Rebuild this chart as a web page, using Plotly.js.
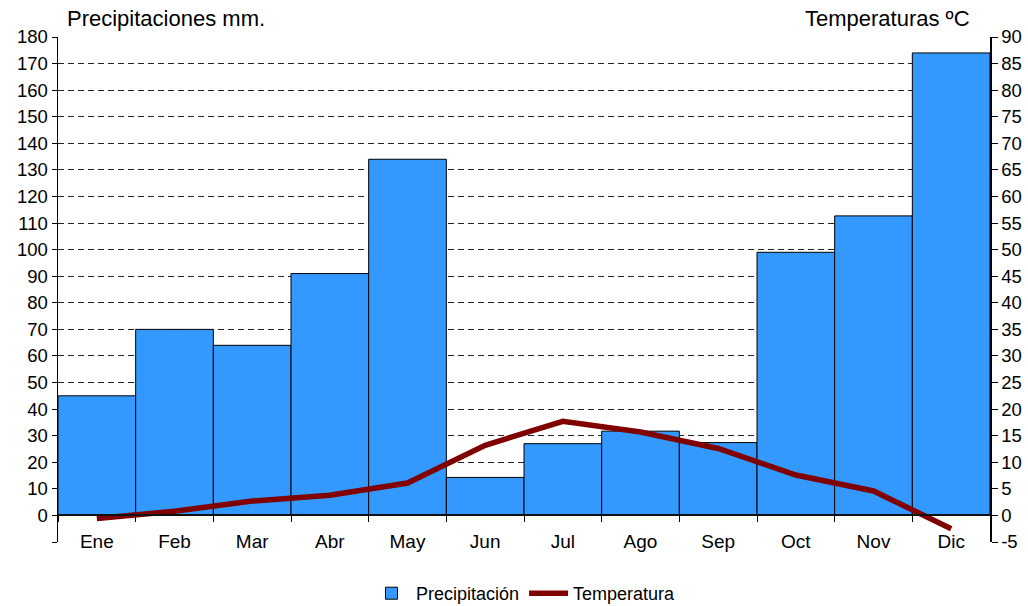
<!DOCTYPE html>
<html>
<head>
<meta charset="utf-8">
<script src="https://cdn.plot.ly/plotly-3.0.1.min.js"></script>
<style>html,body{margin:0;padding:0;background:#fff;}#chart{width:1028px;height:606px;}</style>
</head>
<body>
<div id="chart"></div>
<script>
const months = ["Ene","Feb","Mar","Abr","May","Jun","Jul","Ago","Sep","Oct","Nov","Dic"];
const precipitation = [45, 70, 64, 91, 134, 14.3, 27, 31.7, 27.4, 99, 112.7, 174];
const temperature = [-0.6, 0.8, 2.7, 3.8, 6.1, 13.2, 17.7, 15.7, 12.6, 7.6, 4.6, -2.5];
const leftTicks = [-10,0,10,20,30,40,50,60,70,80,90,100,110,120,130,140,150,160,170,180];
const leftTickText = ["","0","10","20","30","40","50","60","70","80","90","100","110","120","130","140","150","160","170","180"];
const rightTicks = [-5,0,5,10,15,20,25,30,35,40,45,50,55,60,65,70,75,80,85,90];
const rightTickText = ["-5","0","5","10","15","20","25","30","35","40","45","50","55","60","65","70","75","80","85","90"];
const leftRange = [-10, 180];
const rightRange = [-5, 90];

const FONT = '"Liberation Sans", Arial, sans-serif';

const traces = [
  {
    type: 'bar', name: 'Precipitación', x: months, y: precipitation,
    xaxis: 'x', yaxis: 'y',
    marker: {color: '#3399FF', line: {color: '#000000', width: 1}},
    hoverinfo: 'skip'
  },
  {
    type: 'scatter', mode: 'lines', name: 'Temperatura', x: months, y: temperature,
    xaxis: 'x', yaxis: 'y2',
    line: {color: '#800000', width: 5.5},
    hoverinfo: 'skip'
  }
];

const zeroFrac = (0 - leftRange[0]) / (leftRange[1] - leftRange[0]);

const layout = {
  width: 1028, height: 606,
  margin: {l: 58, r: 38, t: 37, b: 64, autoexpand: false},
  paper_bgcolor: '#ffffff', plot_bgcolor: '#ffffff',
  font: {family: FONT, size: 18, color: '#000'},
  bargap: 0,
  showlegend: true,
  legend: {orientation: 'h', x: 0.5, xanchor: 'center', y: -0.102, yanchor: 'middle',
           font: {size: 18, family: FONT}, tracegroupgap: 0, itemwidth: 39},
  xaxis: {
    type: 'category', anchor: 'free', position: zeroFrac,
    showline: true, linecolor: '#111', linewidth: 2,
    ticks: 'outside', tickson: 'boundaries', ticklen: 6, tickcolor: '#000', tickwidth: 1,
    ticklabelstandoff: 9,
    tickfont: {size: 19, family: FONT},
    showgrid: false, zeroline: false, fixedrange: true
  },
  xaxis2: {
    overlaying: 'x', anchor: 'y', side: 'bottom',
    showline: true, mirror: true, linecolor: '#999', linewidth: 1.5,
    showticklabels: false, ticks: '', showgrid: false, zeroline: false
  },
  yaxis: {
    range: leftRange, tickmode: 'array', tickvals: leftTicks, ticktext: leftTickText,
    showline: true, linecolor: '#000', linewidth: 1.5,
    ticks: 'outside', ticklen: 5, tickcolor: '#000',
    showgrid: true, gridcolor: '#222', gridwidth: 1, griddash: '6px,4px',
    zeroline: false, tickfont: {size: 18.5, family: FONT}
  },
  yaxis2: {
    range: rightRange, overlaying: 'y', side: 'right', tickmode: 'array',
    tickvals: rightTicks, ticktext: rightTickText,
    showline: true, linecolor: '#000', linewidth: 1.5,
    ticks: 'outside', ticklen: 6, tickcolor: '#000',
    showgrid: false, zeroline: false, tickfont: {size: 18.5, family: FONT}
  },
  annotations: [
    {text: 'Precipitaciones mm.', xref: 'paper', yref: 'paper', x: 0.008, y: 1.036,
     xanchor: 'left', yanchor: 'middle', showarrow: false, font: {size: 22, family: FONT}},
    {text: 'Temperaturas ºC', xref: 'paper', yref: 'paper', x: 0.981, y: 1.036,
     xanchor: 'right', yanchor: 'middle', showarrow: false, font: {size: 22, family: FONT}}
  ]
};

Plotly.newPlot('chart', traces, layout, {displayModeBar: false, staticPlot: true});
</script>
</body>
</html>
